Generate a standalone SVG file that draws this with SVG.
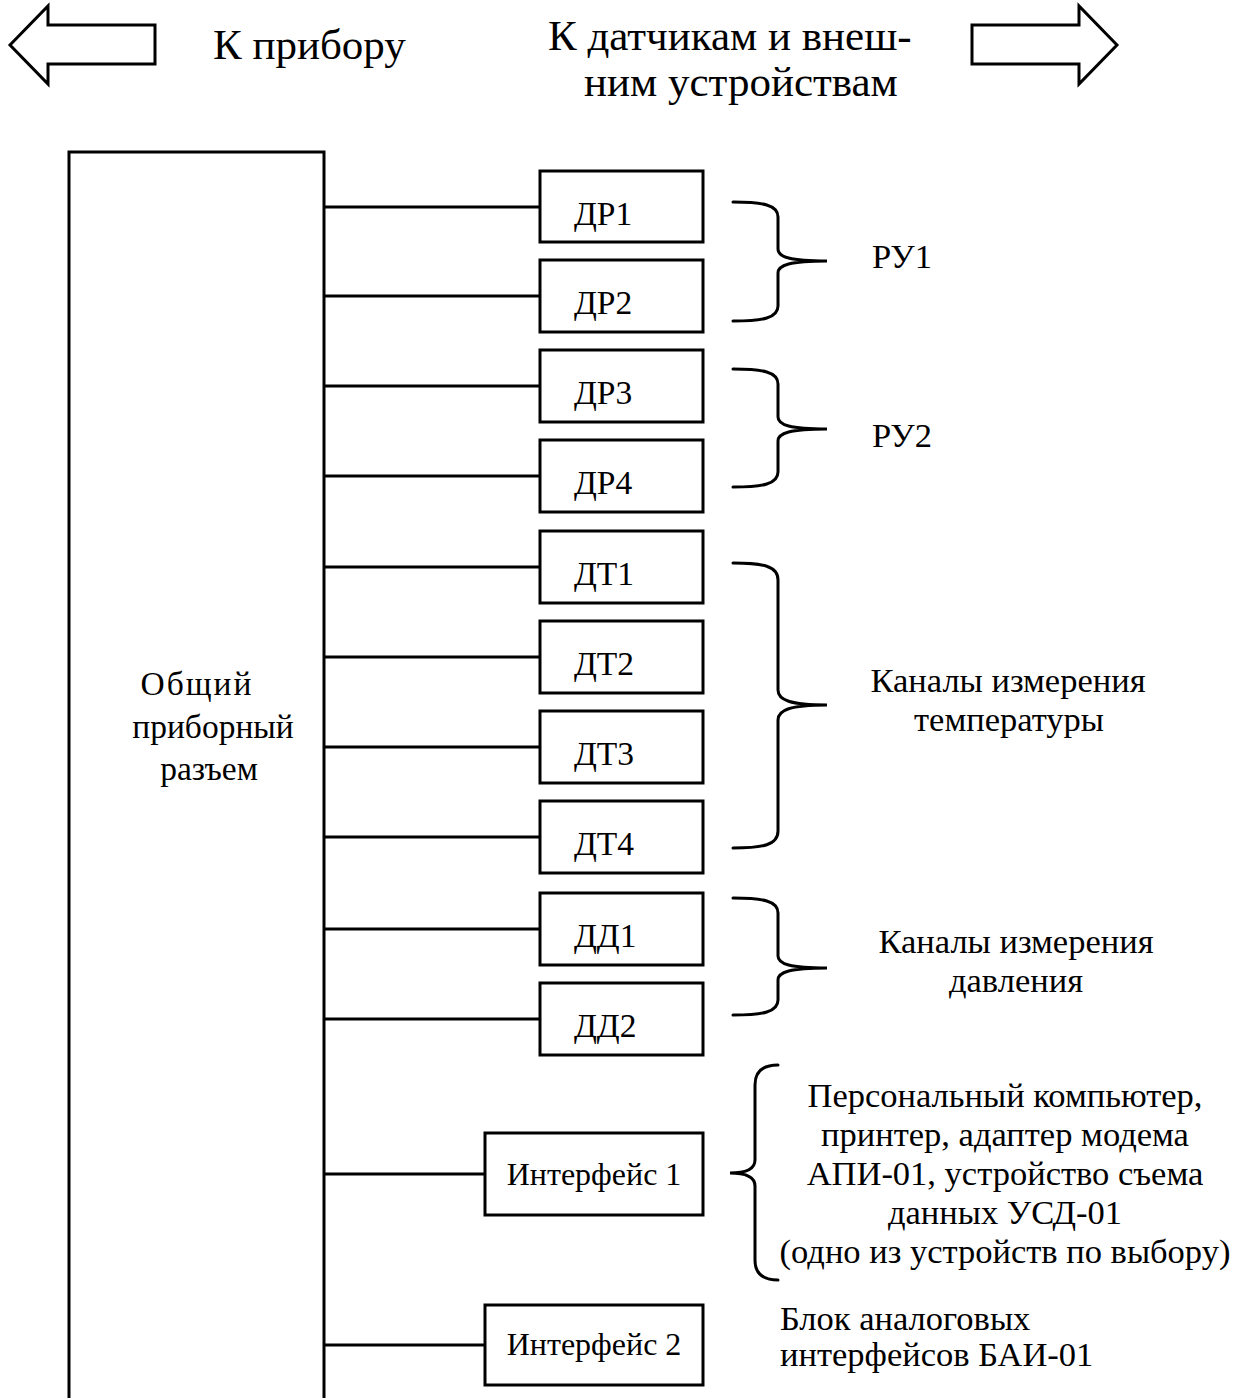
<svg xmlns="http://www.w3.org/2000/svg" width="1250" height="1398" viewBox="0 0 1250 1398">
<style>
.ln{fill:none;stroke:#000;stroke-width:3}
.bx{fill:#fff;stroke:#000;stroke-width:3}
.br{fill:none;stroke:#000;stroke-width:3;stroke-linecap:round}
text{font-family:"Liberation Serif","Times New Roman",serif;fill:#000}
.t{font-size:34.5px}
.k{font-size:33.5px}
.s{font-size:32px}
.b{font-size:43px}
.m{text-anchor:middle}
</style>
<rect width="1250" height="1398" fill="#fff"/>
<g id="arrow-left"><polygon class="ln" points="10,45 48,6 48,25 155,25 155,64 48,64 48,84"/></g>
<g id="arrow-right"><polygon class="ln" points="1117,45 1079,6 1079,25 972,25 972,64 1079,64 1079,84"/></g>
<g id="title-left"><text class="b" x="213" y="59">К прибору</text></g>
<g id="title-right"><text class="b" x="548" y="50">К датчикам и внеш-</text><text class="b" x="584" y="96">ним устройствам</text></g>

<g id="connectors">
<path class="ln" d="M324,207H540M324,296H540M324,386H540M324,476H540M324,567H540M324,657H540M324,747H540M324,837H540M324,929H540M324,1019H540M324,1174H485M324,1345H485"/>
</g>

<g id="connector-main"><path class="ln" d="M69,1400V152H324V1400"/>
<text class="k m" x="197" y="695" letter-spacing="2">Общий</text><text class="k m" x="213" y="738">приборный</text><text class="k m" x="209" y="780">разъем</text></g>

<g id="dr1"><rect class="bx" x="540" y="171" width="163" height="71"/><text class="k" x="574" y="225">ДР1</text></g>
<g id="dr2"><rect class="bx" x="540" y="260" width="163" height="72"/><text class="k" x="574" y="314">ДР2</text></g>
<g id="dr3"><rect class="bx" x="540" y="350" width="163" height="72"/><text class="k" x="574" y="404">ДР3</text></g>
<g id="dr4"><rect class="bx" x="540" y="440" width="163" height="72"/><text class="k" x="574" y="494">ДР4</text></g>
<g id="dt1"><rect class="bx" x="540" y="531" width="163" height="72"/><text class="k" x="574" y="585">ДТ1</text></g>
<g id="dt2"><rect class="bx" x="540" y="621" width="163" height="72"/><text class="k" x="574" y="675">ДТ2</text></g>
<g id="dt3"><rect class="bx" x="540" y="711" width="163" height="72"/><text class="k" x="574" y="765">ДТ3</text></g>
<g id="dt4"><rect class="bx" x="540" y="801" width="163" height="72"/><text class="k" x="574" y="855">ДТ4</text></g>
<g id="dd1"><rect class="bx" x="540" y="893" width="163" height="72"/><text class="k" x="574" y="947">ДД1</text></g>
<g id="dd2"><rect class="bx" x="540" y="983" width="163" height="72"/><text class="k" x="574" y="1037">ДД2</text></g>
<g id="if1"><rect class="bx" x="485" y="1133" width="218" height="82"/><text class="s m" x="594" y="1185">Интерфейс 1</text></g>
<g id="if2"><rect class="bx" x="485" y="1305" width="218" height="80"/><text class="s m" x="594" y="1355">Интерфейс 2</text></g>

<g id="ru1"><path class="br" d="M733,202C763,202 778,205 778,217L778,249C778,257 790,261 827,261C790,261 778,265 778,273L778,306C778,318 763,321 733,321"/><text class="t" x="872" y="268">РУ1</text></g>
<g id="ru2"><path class="br" d="M733,369C763,369 778,372 778,384L778,417C778,425 790,429 827,429C790,429 778,433 778,441L778,472C778,484 763,487 733,487"/><text class="t" x="872" y="447">РУ2</text></g>
<g id="temp"><path class="br" d="M733,563C763,563 778,566 778,580L778,690C778,700 790,705 827,705C790,705 778,710 778,720L778,831C778,845 763,848 733,848"/><text class="t m" x="1008" y="692">Каналы измерения</text><text class="t m" x="1009" y="731">температуры</text></g>
<g id="press"><path class="br" d="M733,898C763,898 778,901 778,913L778,956C778,964 790,968 827,968C790,968 778,972 778,980L778,1000C778,1012 763,1015 733,1015"/><text class="t m" x="1016" y="953">Каналы измерения</text><text class="t m" x="1016" y="992">давления</text></g>
<g id="devices"><path class="br" d="M778,1065C762,1065 755,1072 755,1085L755,1160C755,1168 748,1173 730,1173C748,1173 755,1178 755,1186L755,1260C755,1273 762,1280 778,1280"/>
<text class="t m" x="1005" y="1107">Персональный компьютер,</text>
<text class="t m" x="1005" y="1146">принтер, адаптер модема</text>
<text class="t m" x="1005" y="1185">АПИ-01, устройство съема</text>
<text class="t m" x="1005" y="1224">данных УСД-01</text>
<text class="t m" x="1005" y="1263">(одно из устройств по выбору)</text></g>
<g id="bai"><text class="t" x="780" y="1330">Блок аналоговых</text><text class="t" x="780" y="1366">интерфейсов БАИ-01</text></g>
</svg>
